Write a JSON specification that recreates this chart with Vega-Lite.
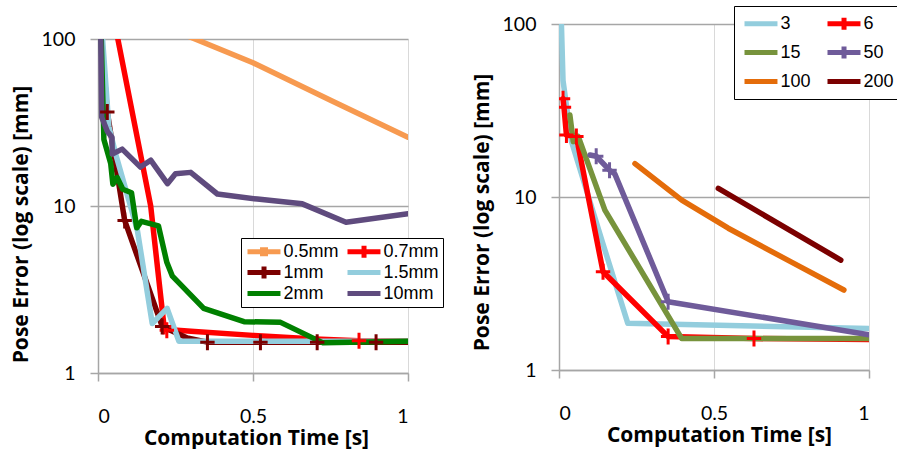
{
  "$schema": "https://vega.github.io/schema/vega-lite/v6.json",
  "background": "white",
  "padding": {"left": 10, "top": 5, "right": 0, "bottom": 0},
  "spacing": 27,
  "resolve": {"scale": {"color": "independent", "x": "independent", "y": "independent"}, "legend": {"color": "independent"}},
  "config": {
    "view": {"stroke": null},
    "axis": {
      "labelFont": "Lato", "labelFontSize": 19.5, "labelColor": "#000000",
      "titleFont": "Open Sans", "titleFontSize": 21, "titleFontWeight": "bold", "titleColor": "#000000",
      "domainColor": "#A6A6A6", "domainWidth": 1.5, "tickColor": "#A6A6A6", "tickWidth": 1.5, "tickSize": 8
    }
  },
  "datasets": {
    "left": [
      {"s": "0.5mm", "x": 0.2, "y": 122}, {"s": "0.5mm", "x": 0.5, "y": 72}, {"s": "0.5mm", "x": 0.75, "y": 43}, {"s": "0.5mm", "x": 1.0, "y": 25.8},
      {"s": "0.7mm", "x": 0.055, "y": 135}, {"s": "0.7mm", "x": 0.064, "y": 100}, {"s": "0.7mm", "x": 0.17, "y": 10}, {"s": "0.7mm", "x": 0.213, "y": 1.9}, {"s": "0.7mm", "x": 0.222, "y": 1.82}, {"s": "0.7mm", "x": 0.3, "y": 1.78}, {"s": "0.7mm", "x": 0.5, "y": 1.68}, {"s": "0.7mm", "x": 0.7, "y": 1.6}, {"s": "0.7mm", "x": 0.842, "y": 1.56}, {"s": "0.7mm", "x": 1.0, "y": 1.55},
      {"s": "1mm", "x": 0.005, "y": 140}, {"s": "1mm", "x": 0.03, "y": 36.5}, {"s": "1mm", "x": 0.086, "y": 8.2}, {"s": "1mm", "x": 0.207, "y": 1.9}, {"s": "1mm", "x": 0.288, "y": 1.62}, {"s": "1mm", "x": 0.353, "y": 1.53}, {"s": "1mm", "x": 0.524, "y": 1.53}, {"s": "1mm", "x": 0.707, "y": 1.53}, {"s": "1mm", "x": 0.897, "y": 1.53}, {"s": "1mm", "x": 1.0, "y": 1.53},
      {"s": "1.5mm", "x": 0.008, "y": 150}, {"s": "1.5mm", "x": 0.035, "y": 30}, {"s": "1.5mm", "x": 0.057, "y": 20.5}, {"s": "1.5mm", "x": 0.127, "y": 7.16}, {"s": "1.5mm", "x": 0.175, "y": 1.98}, {"s": "1.5mm", "x": 0.223, "y": 2.44}, {"s": "1.5mm", "x": 0.261, "y": 1.55}, {"s": "1.5mm", "x": 1.0, "y": 1.55},
      {"s": "2mm", "x": 0.008, "y": 150}, {"s": "2mm", "x": 0.019, "y": 25}, {"s": "2mm", "x": 0.041, "y": 18}, {"s": "2mm", "x": 0.048, "y": 13.5}, {"s": "2mm", "x": 0.062, "y": 14.8}, {"s": "2mm", "x": 0.08, "y": 12.6}, {"s": "2mm", "x": 0.108, "y": 12}, {"s": "2mm", "x": 0.125, "y": 7.4}, {"s": "2mm", "x": 0.14, "y": 8.1}, {"s": "2mm", "x": 0.195, "y": 7.6}, {"s": "2mm", "x": 0.222, "y": 4.6}, {"s": "2mm", "x": 0.24, "y": 3.8}, {"s": "2mm", "x": 0.341, "y": 2.44}, {"s": "2mm", "x": 0.471, "y": 2.03}, {"s": "2mm", "x": 0.589, "y": 2.01}, {"s": "2mm", "x": 0.724, "y": 1.52}, {"s": "2mm", "x": 1.0, "y": 1.55},
      {"s": "10mm", "x": 0.008, "y": 150}, {"s": "10mm", "x": 0.012, "y": 34}, {"s": "10mm", "x": 0.03, "y": 28}, {"s": "10mm", "x": 0.045, "y": 25.8}, {"s": "10mm", "x": 0.046, "y": 20.5}, {"s": "10mm", "x": 0.078, "y": 21.9}, {"s": "10mm", "x": 0.137, "y": 17.1}, {"s": "10mm", "x": 0.17, "y": 18.8}, {"s": "10mm", "x": 0.224, "y": 13.6}, {"s": "10mm", "x": 0.25, "y": 15.6}, {"s": "10mm", "x": 0.299, "y": 15.9}, {"s": "10mm", "x": 0.385, "y": 11.8}, {"s": "10mm", "x": 0.514, "y": 11.0}, {"s": "10mm", "x": 0.659, "y": 10.3}, {"s": "10mm", "x": 0.8, "y": 8.0}, {"s": "10mm", "x": 1.0, "y": 9.0}
    ],
    "leftMarks": [
      {"s": "0.7mm", "x": 0.213, "y": 1.9}, {"s": "0.7mm", "x": 0.222, "y": 1.8}, {"s": "0.7mm", "x": 0.842, "y": 1.56},
      {"s": "1mm", "x": 0.03, "y": 36.5}, {"s": "1mm", "x": 0.086, "y": 8.2}, {"s": "1mm", "x": 0.207, "y": 1.9}, {"s": "1mm", "x": 0.353, "y": 1.53}, {"s": "1mm", "x": 0.524, "y": 1.53}, {"s": "1mm", "x": 0.707, "y": 1.53}, {"s": "1mm", "x": 0.897, "y": 1.53}
    ],
    "right": [
      {"s": "3", "x": 0.005, "y": 150}, {"s": "3", "x": 0.013, "y": 47}, {"s": "3", "x": 0.04, "y": 21}, {"s": "3", "x": 0.138, "y": 5.64}, {"s": "3", "x": 0.222, "y": 1.86}, {"s": "3", "x": 1.0, "y": 1.74},
      {"s": "6", "x": 0.013, "y": 37}, {"s": "6", "x": 0.016, "y": 33}, {"s": "6", "x": 0.024, "y": 22.8}, {"s": "6", "x": 0.056, "y": 22.4}, {"s": "6", "x": 0.142, "y": 3.7}, {"s": "6", "x": 0.352, "y": 1.56}, {"s": "6", "x": 0.629, "y": 1.52}, {"s": "6", "x": 1.0, "y": 1.5},
      {"s": "15", "x": 0.035, "y": 29.8}, {"s": "15", "x": 0.046, "y": 20.9}, {"s": "15", "x": 0.062, "y": 22.4}, {"s": "15", "x": 0.148, "y": 8.4}, {"s": "15", "x": 0.396, "y": 1.52}, {"s": "15", "x": 1.0, "y": 1.52},
      {"s": "50", "x": 0.1, "y": 17.5}, {"s": "50", "x": 0.12, "y": 17.2}, {"s": "50", "x": 0.163, "y": 14.3}, {"s": "50", "x": 0.18, "y": 13.6}, {"s": "50", "x": 0.352, "y": 2.48}, {"s": "50", "x": 1.0, "y": 1.6},
      {"s": "100", "x": 0.245, "y": 15.6}, {"s": "100", "x": 0.396, "y": 9.6}, {"s": "100", "x": 0.546, "y": 6.6}, {"s": "100", "x": 0.75, "y": 4.2}, {"s": "100", "x": 0.919, "y": 2.9},
      {"s": "200", "x": 0.514, "y": 11.2}, {"s": "200", "x": 0.909, "y": 4.32}
    ],
    "rightMarks": [
      {"s": "6", "x": 0.013, "y": 37}, {"s": "6", "x": 0.016, "y": 33}, {"s": "6", "x": 0.024, "y": 22.8}, {"s": "6", "x": 0.056, "y": 22.4}, {"s": "6", "x": 0.142, "y": 3.7}, {"s": "6", "x": 0.352, "y": 1.56}, {"s": "6", "x": 0.629, "y": 1.52},
      {"s": "50", "x": 0.12, "y": 17.2}, {"s": "50", "x": 0.163, "y": 14.3}, {"s": "50", "x": 0.352, "y": 2.48}
    ]
  },
  "hconcat": [
    {
      "spacing": 1,
      "vconcat": [
        {"width": 310, "height": 1, "data": {"values": [{"a": 1}]}, "mark": {"type": "point", "opacity": 0}},
        {
          "width": 310,
          "height": 334,
          "encoding": {
            "x": {"field": "x", "type": "quantitative", "scale": {"domain": [0, 1], "nice": false},
              "axis": {"values": [0, 0.5, 1], "format": "~g", "title": "Computation Time [s]", "grid": true, "gridColor": "#D9D9D9", "gridWidth": 1, "labelPadding": 26, "titlePadding": 2, "titleX": 158}},
            "y": {"field": "y", "type": "quantitative", "scale": {"type": "log", "domain": [1, 100], "nice": false},
              "axis": {"values": [1, 10, 100], "format": "~g", "title": "Pose Error (log scale) [mm]", "grid": true, "gridColor": "#A6A6A6", "gridWidth": 1.5, "labelPadding": 15, "titlePadding": 10, "titleY": 185}},
            "color": {"field": "s", "type": "nominal",
              "scale": {"domain": ["0.5mm", "0.7mm", "1mm", "1.5mm", "2mm", "10mm"], "range": ["#F79A50", "#FF0000", "#7B0000", "#93CDDD", "#008000", "#5F4B7E"]},
              "legend": {"title": null, "orient": "none", "legendX": 143, "legendY": 214, "columns": 2, "direction": "horizontal",
                "symbolSize": 196, "symbolStrokeWidth": 5, "labelFont": "Liberation Sans", "labelFontSize": 18, "labelColor": "#000000",
                "labelOffset": 19.5, "columnPadding": 6, "rowPadding": 2, "padding": 4, "strokeColor": "#000000", "fillColor": "#FFFFFF",
                "encode": {"symbols": {"update": {
                  "shape": {"signal": "datum.value === '0.5mm' ? 'M1.36,-0.86M1.36,0.86M-1,0H3.71M0.79,-0.29H1.93M0.79,0.29H1.93' : (datum.value === '0.7mm' || datum.value === '1mm') ? 'M-1,0H3.71M1.36,-0.86V0.86' : 'M1.36,-0.86M1.36,0.86M-1,0H3.71'"},
                  "strokeWidth": {"value": 5}, "strokeJoin": {"value": "round"}, "opacity": {"value": 1}, "fill": {"value": "transparent"}}}}}}
          },
          "layer": [
            {"data": {"name": "left"}, "mark": {"type": "line", "strokeWidth": 5.5, "clip": true, "strokeCap": "round", "strokeJoin": "round"}},
            {"data": {"name": "leftMarks"}, "mark": {"type": "point", "shape": "M-0.9,0H0.9M0,-1V1", "size": 256, "strokeWidth": 3, "filled": false, "opacity": 1, "clip": true}}
          ]
        }
      ]
    },
    {
      "width": 310,
      "height": 346,
      "encoding": {
        "x": {"field": "x", "type": "quantitative", "scale": {"domain": [0, 1], "nice": false},
          "axis": {"values": [0, 0.5, 1], "format": "~g", "title": "Computation Time [s]", "grid": true, "gridColor": "#D9D9D9", "gridWidth": 1, "labelPadding": 26, "titlePadding": 2, "titleX": 160}},
        "y": {"field": "y", "type": "quantitative", "scale": {"type": "log", "domain": [1, 100], "nice": false},
          "axis": {"values": [1, 10, 100], "format": "~g", "title": "Pose Error (log scale) [mm]", "grid": true, "gridColor": "#A6A6A6", "gridWidth": 1.5, "labelPadding": 15, "titlePadding": 10, "titleY": 188}},
        "color": {"field": "s", "type": "nominal",
          "scale": {"domain": ["3", "6", "15", "50", "100", "200"], "range": ["#93CDDD", "#FF0000", "#77933C", "#6F5B9A", "#E46C0A", "#7B0000"]},
          "legend": {"title": null, "orient": "none", "legendX": 175, "legendY": -18, "columns": 2, "direction": "horizontal",
            "symbolSize": 196, "symbolStrokeWidth": 5, "labelFont": "Liberation Sans", "labelFontSize": 18, "labelColor": "#000000",
            "labelOffset": 19.5, "columnPadding": 14, "rowPadding": 10, "padding": 8, "strokeColor": "#000000", "fillColor": "#FFFFFF",
            "encode": {"symbols": {"update": {
              "shape": {"signal": "(datum.value === '6' || datum.value === '50') ? 'M-1,0H3.71M1.36,-0.86V0.86' : 'M1.36,-0.86M1.36,0.86M-1,0H3.71'"},
              "strokeWidth": {"value": 5}, "strokeJoin": {"value": "round"}, "opacity": {"value": 1}, "fill": {"value": "transparent"}}}}}}
      },
      "layer": [
        {"data": {"name": "right"}, "mark": {"type": "line", "strokeWidth": 5.5, "clip": true, "strokeCap": "round", "strokeJoin": "round"}},
        {"data": {"name": "rightMarks"}, "mark": {"type": "point", "shape": "M-0.9,0H0.9M0,-1V1", "size": 256, "strokeWidth": 3, "filled": false, "opacity": 1, "clip": true}}
      ]
    }
  ]
}
